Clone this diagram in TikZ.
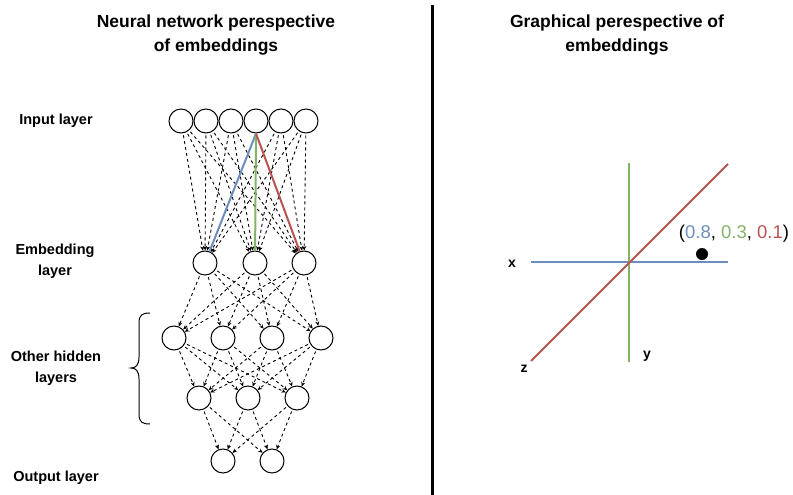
\documentclass[tikz,border=0pt]{standalone}
\usepackage{fontspec}
\setmainfont{Liberation Sans}
\usetikzlibrary{arrows.meta}
\definecolor{ablue}{HTML}{6C8EBF}
\definecolor{agreen}{HTML}{82B366}
\definecolor{ared}{HTML}{B85450}
\begin{document}
\begin{tikzpicture}[x=1pt,y=-1pt,
  neuron/.style={circle,draw,line width=1pt,minimum size=24pt,inner sep=0pt},
  conn/.style={draw,line width=0.9pt,dash pattern=on 3pt off 3pt,shorten <=2pt,-{Stealth[length=4.5pt,width=4pt]}},
  hot/.style={line width=2pt},
  lbl/.style={font=\fontsize{14.5}{21}\selectfont\bfseries,align=center},
  ttl/.style={font=\fontsize{17.5}{24}\selectfont\bfseries,align=center},
  axis/.style={line width=2pt},
  axlbl/.style={font=\fontsize{14}{16}\selectfont\bfseries}]
\useasboundingbox (0,0) rectangle (793,495);

% titles and divider
\node[ttl] (t1) at (216,35) {Neural network perespective\\of embeddings};
\node[ttl] (t2) at (617,35) {Graphical perespective of\\embeddings};
\coordinate (d1) at (432,5);
\coordinate (d2) at (432,495);
\draw[line width=3pt] (d1) -- (d2);

% layer labels
\node[lbl] (l1) at (56,121) {Input layer};
\node[lbl] (l2) at (55,261) {Embedding\\layer};
\node[lbl] (l3) at (56,368) {Other hidden\\layers};
\node[lbl] (l4) at (56,478) {Output layer};

% neurons
\foreach \i/\x in {1/181,2/206,3/231,4/256,5/281,6/306}
  \node[neuron] (in\i) at (\x,121) {};
\foreach \i/\x in {1/205,2/255,3/304}
  \node[neuron] (em\i) at (\x,263) {};
\foreach \i/\x in {1/174,2/223,3/272,4/321}
  \node[neuron] (ha\i) at (\x,338) {};
\foreach \i/\x in {1/199,2/248,3/297}
  \node[neuron] (hb\i) at (\x,398) {};
\foreach \i/\x in {1/223,2/272}
  \node[neuron] (out\i) at (\x,461) {};

% connections
\foreach \i in {1,2,3,5,6}
  \foreach \j in {1,2,3}
    \draw[conn] (in\i) -- (em\j);
\foreach \i in {1,2,3}
  \foreach \j in {1,2,3,4}
    \draw[conn] (em\i) -- (ha\j);
\foreach \i in {1,2,3,4}
  \foreach \j in {1,2,3}
    \draw[conn] (ha\i) -- (hb\j);
\foreach \i in {1,2,3}
  \foreach \j in {1,2}
    \draw[conn] (hb\i) -- (out\j);
\draw[hot,ablue] (in4.south) -- (em1);
\draw[hot,agreen] (in4.south) -- (em2);
\draw[hot,ared] (in4.south) -- (em3);

% brace
\coordinate (b1) at (150,313);
\coordinate (bt) at (131,368);
\coordinate (b2) at (150,424);
\draw[line width=1pt] (b1) .. controls (142,313) and (139,315) .. (139,323)
  -- (139,357) .. controls (139,365) and (136,368) .. (bt)
  .. controls (136,368) and (139,371) .. (139,379)
  -- (139,414) .. controls (139,422) and (142,424) .. (b2);

% graphical perspective
\coordinate (xa) at (531,262);
\coordinate (xb) at (728,262);
\coordinate (ya) at (629,163);
\coordinate (yb) at (629,362);
\coordinate (za) at (531,361);
\coordinate (zb) at (728,164);
\draw[axis,ablue] (xa) -- (xb);
\draw[axis,agreen] (ya) -- (yb);
\draw[axis,ared] (za) -- (zb);
\node[circle,fill=black,minimum size=12pt,inner sep=0pt] (pt) at (702,254) {};
\node[font=\fontsize{18.5}{20}\selectfont] (tup) at (734,234)
  {(\textcolor{ablue}{0.8}, \textcolor{agreen}{0.3}, \textcolor{ared}{0.1})};
\node[axlbl] (lx) at (512,264) {x};
\node[axlbl] (ly) at (647,356) {y};
\node[axlbl] (lz) at (524,369) {z};
\end{tikzpicture}
\end{document}
